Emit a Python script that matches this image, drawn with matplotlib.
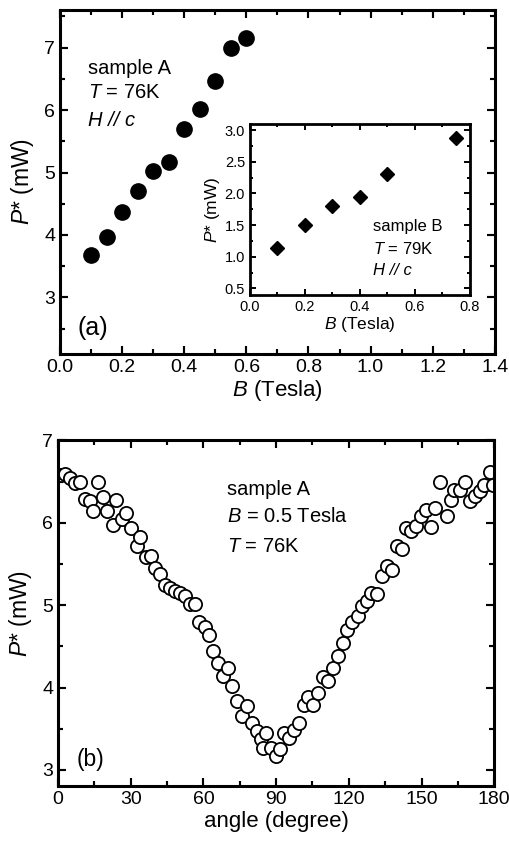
import numpy as np
import matplotlib
matplotlib.use('Agg')
from matplotlib import pyplot as plt
from matplotlib.ticker import MultipleLocator, FormatStrFormatter

plt.rcParams['font.family'] = ['Liberation Sans', 'DejaVu Sans']
plt.rcParams['mathtext.fontset'] = 'custom'
plt.rcParams['mathtext.rm'] = 'Liberation Sans'
plt.rcParams['mathtext.it'] = 'Liberation Sans:italic'

# (a) sample A, P* versus field
field_a = [0.10, 0.15, 0.20, 0.25, 0.30, 0.35, 0.40, 0.45, 0.50, 0.55, 0.60]
power_a = [3.68, 3.96, 4.37, 4.70, 5.03, 5.17, 5.69, 6.01, 6.47, 7.00, 7.16]

# inset: sample B
field_b = [0.10, 0.20, 0.30, 0.40, 0.50, 0.75]
power_b = [1.13, 1.50, 1.80, 1.95, 2.30, 2.88]

# (b) sample A at 0.5 Tesla, P* versus angle
angle = [1.1, 3.0, 4.8, 6.9, 9.0, 11.0, 13.1, 14.5, 16.5, 18.6,
         20.4, 22.5, 24.1, 26.4, 28.2, 30.3, 32.4, 34.0, 36.1, 38.2,
         39.9, 42.0, 44.1, 46.1, 48.2, 50.3, 52.3, 54.4, 56.5, 58.3,
         60.6, 62.4, 64.0, 66.1, 68.2, 70.2, 71.6, 74.0, 75.8, 78.1,
         79.9, 82.0, 83.7, 85.7, 84.7, 87.7, 89.8, 91.6,
         93.4, 95.5, 97.4, 99.4, 101.5, 103.3, 105.4, 107.4, 109.2, 111.6,
         113.6, 115.7, 117.5, 119.4, 121.5, 123.7, 125.3, 127.4, 129.1, 131.8,
         133.6, 135.7, 137.7, 139.8, 141.9, 143.7, 145.6, 147.8, 149.7, 151.9,
         153.9, 155.6, 157.7, 160.5, 162.1, 163.2, 166.0, 168.0, 170.1, 172.2,
         174.2, 175.9, 178.1, 179.5]
power_angle = [6.58, 6.59, 6.54, 6.48, 6.49, 6.29, 6.26, 6.14, 6.50, 6.31,
               6.14, 5.97, 6.28, 6.04, 6.12, 5.94, 5.72, 5.83, 5.59, 5.60,
               5.45, 5.38, 5.25, 5.21, 5.17, 5.15, 5.11, 5.01, 5.01, 4.79,
               4.73, 4.64, 4.44, 4.30, 4.14, 4.24, 4.02, 3.84, 3.66, 3.78,
               3.57, 3.47, 3.37, 3.45, 3.27, 3.27, 3.17, 3.25,
               3.45, 3.39, 3.49, 3.57, 3.79, 3.88, 3.79, 3.93, 4.13, 4.08,
               4.24, 4.38, 4.54, 4.70, 4.79, 4.87, 4.99, 5.05, 5.15, 5.13,
               5.35, 5.47, 5.43, 5.72, 5.68, 5.94, 5.90, 5.96, 6.08, 6.16,
               5.95, 6.18, 6.50, 6.08, 6.28, 6.40, 6.40, 6.50, 6.26, 6.32,
               6.38, 6.46, 6.62, 6.46]


def style_axes(ax, xmaj, xmin, ymaj, ymin, size, lw=2.0, tl=6):
    ax.xaxis.set_major_locator(MultipleLocator(xmaj))
    ax.xaxis.set_minor_locator(MultipleLocator(xmin))
    ax.yaxis.set_major_locator(MultipleLocator(ymaj))
    ax.yaxis.set_minor_locator(MultipleLocator(ymin))
    ax.tick_params(which='both', direction='in', top=True, right=True,
                   width=lw * 0.7, labelsize=size)
    ax.tick_params(which='major', length=tl)
    ax.tick_params(which='minor', length=tl * 0.55)
    for s in ax.spines.values():
        s.set_linewidth(lw)


fig = plt.figure(figsize=(5.09, 8.42), dpi=100)

# panel (a)
ax1 = fig.add_axes([0.118, 0.580, 0.854, 0.408])
ax1.plot(field_a, power_a, 'o', color='black', markersize=11)
ax1.set_xlim(0, 1.4)
ax1.set_ylim(2.1, 7.6)
style_axes(ax1, 0.2, 0.1, 1, 0.5, 14, lw=2.2)
ax1.set_xticks(np.arange(0, 1.41, 0.2))
ax1.set_xticklabels(['%.1f' % v for v in np.arange(0, 1.41, 0.2)])
ax1.set_yticks([3, 4, 5, 6, 7])
ax1.set_xlabel('$B$ (Tesla)', fontsize=16, labelpad=2)
ax1.set_ylabel('$P$* (mW)', fontsize=16.5, labelpad=6)
ax1.text(0.064, 0.83, 'sample A', transform=ax1.transAxes, fontsize=14.5, va='center')
ax1.text(0.064, 0.759, '$T$ = 76K', transform=ax1.transAxes, fontsize=14.5, va='center')
ax1.text(0.064, 0.68, 'H // c', transform=ax1.transAxes, fontsize=14.5, va='center',
         style='italic')
ax1.text(0.041, 0.076, '(a)', transform=ax1.transAxes, fontsize=18, va='center')

# inset with sample B
ins = fig.add_axes([0.491, 0.650, 0.432, 0.203])
ins.plot(field_b, power_b, 'D', color='black', markersize=7)
ins.set_xlim(0, 0.8)
ins.set_ylim(0.4, 3.1)
style_axes(ins, 0.2, 0.1, 0.5, 0.25, 10.5, lw=2.0, tl=4)
ins.xaxis.set_major_formatter(FormatStrFormatter('%.1f'))
ins.yaxis.set_major_formatter(FormatStrFormatter('%.1f'))
ins.set_xlabel('$B$ (Tesla)', fontsize=12.5, labelpad=1)
ins.set_ylabel('$P$* (mW)', fontsize=12.5, labelpad=2)
ins.text(0.56, 0.40, 'sample B', transform=ins.transAxes, fontsize=12, va='center')
ins.text(0.56, 0.27, '$T$ = 79K', transform=ins.transAxes, fontsize=12, va='center')
ins.text(0.56, 0.14, 'H // c', transform=ins.transAxes, fontsize=12, va='center',
         style='italic')

# panel (b)
ax2 = fig.add_axes([0.114, 0.066, 0.857, 0.411])
ax2.plot(angle, power_angle, 'o', markerfacecolor='white', markeredgecolor='black',
         markeredgewidth=1.3, markersize=9.5)
ax2.set_xlim(0, 180)
ax2.set_ylim(2.8, 7)
style_axes(ax2, 30, 15, 1, 0.5, 14, lw=2.2)
ax2.set_yticks([3, 4, 5, 6, 7])
ax2.set_xlabel('angle (degree)', fontsize=16, labelpad=2)
ax2.set_ylabel('$P$* (mW)', fontsize=16.5, labelpad=6)
ax2.text(0.388, 0.858, 'sample A', transform=ax2.transAxes, fontsize=14.5, va='center')
ax2.text(0.388, 0.78, '$B$ = 0.5 Tesla', transform=ax2.transAxes, fontsize=14.5, va='center')
ax2.text(0.388, 0.694, '$T$ = 76K', transform=ax2.transAxes, fontsize=14.5, va='center')
ax2.text(0.043, 0.077, '(b)', transform=ax2.transAxes, fontsize=16.5, va='center')

fig.savefig('out.png', dpi=100)
